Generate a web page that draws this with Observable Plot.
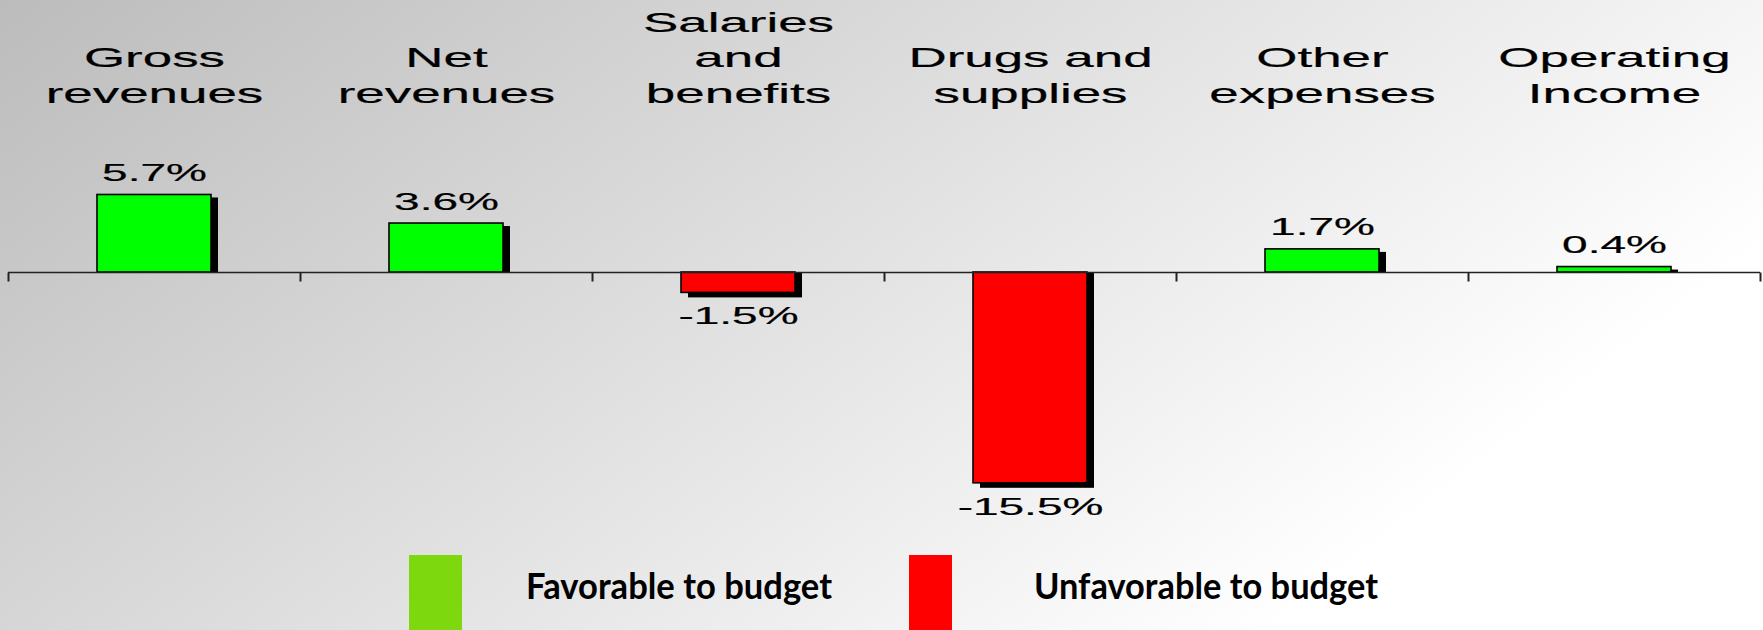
<!DOCTYPE html>
<html>
<head>
<meta charset="utf-8">
<script src="https://cdn.jsdelivr.net/npm/d3@7"></script>
<script src="https://cdn.jsdelivr.net/npm/@observablehq/plot@0.6"></script>
<style>
  html, body { margin: 0; padding: 0; }
  #wrap {
    width: 1763px; height: 630px; overflow: hidden;
    background: linear-gradient(142deg, rgb(188,188,188) 0%, #ffffff 81%);
  }
  #wrap svg { display: block; background: transparent; }
</style>
</head>
<body>
<div id="wrap"></div>
<script>
// ---- data ----
const categories = ["Gross\nrevenues", "Net\nrevenues", "Salaries\nand\nbenefits", "Drugs and\nsupplies", "Other\nexpenses", "Operating\nIncome"];
const values = [5.7, 3.6, -1.5, -15.5, 1.7, 0.4];
const valueLabels = ["5.7%", "3.6%", "-1.5%", "-15.5%", "1.7%", "0.4%"];
const legendLabels = ["Favorable to budget", "Unfavorable to budget"];

const data = categories.map((c, i) => ({i, category: c, value: values[i], label: valueLabels[i]}));
const pos = data.filter(d => d.value >= 0);
const neg = data.filter(d => d.value < 0);
const boundaries = d3.range(categories.length + 1);

const FONT = "'Liberation Sans', Arial, sans-serif";
const GREEN = "#00ff00", RED = "#ff0000";
const barInset = 89;
const TEXT_STROKE = 0.2;

const tickSymbol = {draw(ctx) { ctx.moveTo(0, 0); ctx.lineTo(0, 9); }};

const chart = Plot.plot({
  width: 1763,
  height: 544,
  marginLeft: 8,
  marginRight: 3,
  marginTop: 0,
  marginBottom: 0,
  style: {background: "transparent", overflow: "visible"},
  x: {domain: [0, categories.length], axis: null},
  y: {domain: [-20, 20], axis: null},
  marks: [
    // shadows
    Plot.rect(pos, {x1: d => d.i, x2: d => d.i + 1, y1: 0, y2: "value", insetLeft: barInset, insetRight: barInset, insetBottom: 3, dx: 7, dy: 3, fill: "black"}),
    Plot.rect(neg, {x1: d => d.i, x2: d => d.i + 1, y1: 0, y2: "value", insetLeft: barInset, insetRight: barInset, insetTop: -5, dx: 7, dy: 5, fill: "black"}),
    // bars
    Plot.rect(data, {x1: d => d.i, x2: d => d.i + 1, y1: 0, y2: "value", insetLeft: barInset, insetRight: barInset,
      fill: d => d.value >= 0 ? GREEN : RED, stroke: "black", strokeWidth: 1.6}),
    // axis line and ticks
    Plot.ruleY([0], {stroke: "#222", strokeWidth: 1.6}),
    Plot.dot(boundaries, {x: d => d, y: 0, symbol: tickSymbol, r: 3, fill: "none", stroke: "#222", strokeWidth: 2}),
    // value labels
    Plot.text(pos, {x: d => d.i + 0.5, y: "value", text: "label", dy: -14, lineAnchor: "bottom", fontSize: 23, fontFamily: FONT, fill: "black", stroke: "black", strokeWidth: TEXT_STROKE, className: "stretch-val"}),
    Plot.text(neg, {x: d => d.i + 0.5, y: "value", text: "label", dy: 15, lineAnchor: "top", fontSize: 23, fontFamily: FONT, fill: "black", stroke: "black", strokeWidth: TEXT_STROKE, className: "stretch-val"}),
    // category labels
    Plot.text(data, {x: d => d.i + 0.5, text: "category", frameAnchor: "top", dy: 102, lineAnchor: "bottom", lineHeight: 1.31, fontSize: 27, fontFamily: FONT, fill: "black", stroke: "black", strokeWidth: TEXT_STROKE, className: "stretch-cat"})
  ]
});

function stretch(root, sel, sx) {
  root.querySelectorAll(sel + " text").forEach(t => {
    const tr = t.getAttribute("transform") || "";
    t.setAttribute("transform", tr + ` scale(${sx},1)`);
  });
}
stretch(chart, "g.stretch-val", 2.0);
stretch(chart, "g.stretch-cat", 1.96);

document.getElementById("wrap").appendChild(chart);

// ---- legend (below the chart) ----
const legend = d3.create("svg").attr("width", 1763).attr("height", 86);
const items = [
  {label: legendLabels[0], color: "rgb(126,216,14)", sx: 409, sw: 53, tx: 526, tw: 306},
  {label: legendLabels[1], color: "#ff0000", sx: 909, sw: 43, tx: 1034, tw: 344}
];
for (const it of items) {
  legend.append("rect").attr("x", it.sx).attr("y", 11).attr("width", it.sw).attr("height", 90).attr("fill", it.color);
  legend.append("text").attr("x", it.tx).attr("y", 55)
    .attr("font-family", "Lato, 'Open Sans', sans-serif").attr("font-weight", "bold").attr("font-size", 36)
    .attr("textLength", it.tw).attr("lengthAdjust", "spacingAndGlyphs")
    .attr("fill", "black").text(it.label);
}
document.getElementById("wrap").appendChild(legend.node());
</script>
</body>
</html>
